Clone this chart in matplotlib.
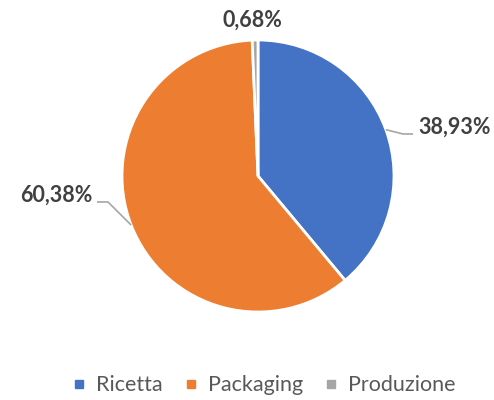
import numpy as np
import matplotlib.pyplot as plt
from matplotlib.lines import Line2D

plt.rcParams['font.family'] = ['Lato', 'DejaVu Sans']

# Quote per fase (%)
categories = ["Ricetta", "Packaging", "Produzione"]
shares = [38.93, 60.38, 0.68]
colors = ["#4472C4", "#ED7D31", "#A5A5A5"]

# label anchor (data units, pie radius = 1) and leader elbow/end for each slice
label_pos = [(1.18, 0.36), (-1.22, -0.14), (-0.04, 1.147)]
label_ha = ["left", "right", "center"]
leader = [[(1.066, 0.309), (1.14, 0.309)],
          [(-1.103, -0.191), (-1.184, -0.191)],
          None]

fig = plt.figure(figsize=(4.94, 4.0), dpi=100)
ax = fig.add_axes([0, 0, 1, 1])

wedges, _ = ax.pie(shares, colors=colors, startangle=90, counterclock=False,
                   radius=1, center=(0, 0),
                   wedgeprops=dict(edgecolor="white", linewidth=2))

for w, v, pos, ha, pts in zip(wedges, shares, label_pos, label_ha, leader):
    mid = np.deg2rad((w.theta1 + w.theta2) / 2)
    if pts is not None:
        xs = [np.cos(mid)] + [p[0] for p in pts]
        ys = [np.sin(mid)] + [p[1] for p in pts]
        ax.plot(xs, ys, color="#A6A6A6", lw=1.2, solid_capstyle="butt")
    ax.text(pos[0], pos[1], f"{v:.2f}%".replace(".", ","), ha=ha, va="center",
            fontsize=15.5, fontweight="bold", color="#404040")

ax.set_aspect("equal")
ax.set_xlim(-258 / 136, (494 - 258) / 136)
ax.set_ylim(-(400 - 176) / 136, 176 / 136)
ax.axis("off")

handles = [Line2D([], [], marker="s", ls="", color=c, markersize=6) for c in colors]
leg = fig.legend(handles, categories, loc="center", bbox_to_anchor=(0.535, 0.037),
                 ncol=3, frameon=False, fontsize=15.5, handlelength=0.6,
                 handletextpad=0.5, columnspacing=1.0)
for t in leg.get_texts():
    t.set_color("#595959")

fig.savefig("out.png", dpi=100)
